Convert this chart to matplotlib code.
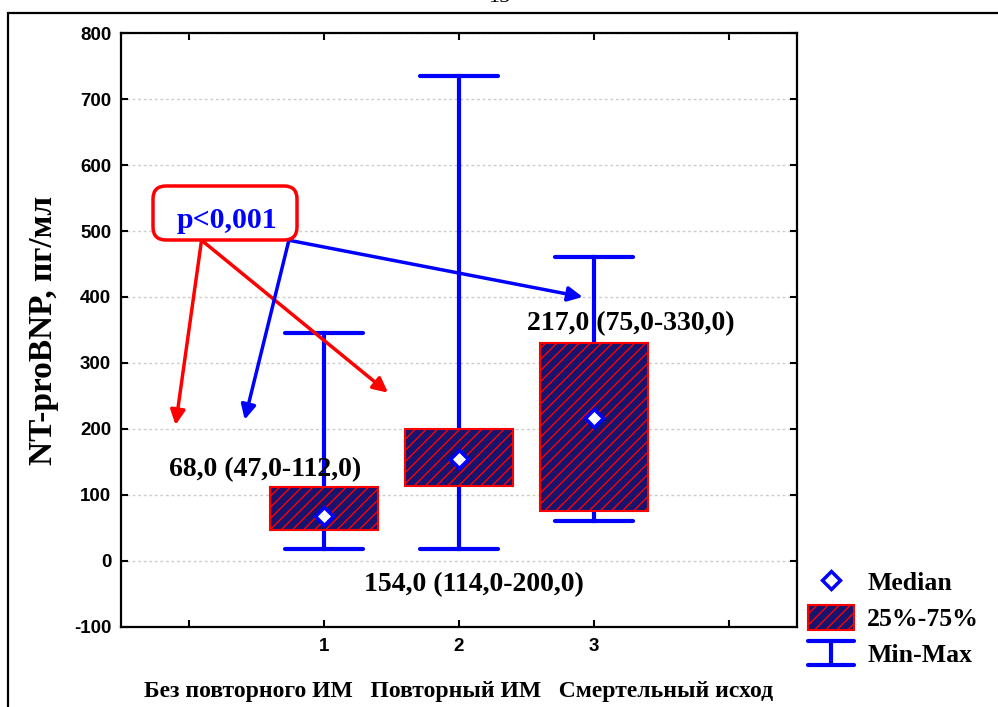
import matplotlib
matplotlib.use("Agg")
import matplotlib.pyplot as plt
from matplotlib.lines import Line2D
from matplotlib.patches import Patch, Rectangle, FancyBboxPatch
from matplotlib.legend_handler import HandlerBase

# data
groups = [1, 2, 3]
medians = [68.0, 154.0, 217.0]
q1 = [47.0, 114.0, 75.0]
q3 = [112.0, 200.0, 330.0]
mins = [18.0, 18.0, 60.0]
maxs = [345.0, 735.0, 460.0]
group_names = "Без повторного ИМ   Повторный ИМ   Смертельный исход"
yticks = [-100, 0, 100, 200, 300, 400, 500, 600, 700, 800]

serif = "Liberation Serif"
sans = "Liberation Sans"
blue = "#0000ff"
red = "#ff0000"
navy = "#16146e"


class HandlerWhisker(HandlerBase):
    # legend symbol for the Min-Max whisker: two caps joined by a stem
    def create_artists(self, legend, orig_handle, xdescent, ydescent,
                       width, height, fontsize, trans):
        x0, x1 = -xdescent, -xdescent + width
        y0, y1 = -ydescent, -ydescent + height
        xm = (x0 + x1) / 2
        kw = dict(color=blue, lw=3, solid_capstyle="round", transform=trans)
        return [Line2D([x0, x1], [y1, y1], **kw),
                Line2D([x0, x1], [y0, y0], **kw),
                Line2D([xm, xm], [y0, y1], **kw)]


fig = plt.figure(figsize=(9.98, 7.07), dpi=100)
ax = fig.add_axes([0.1212, 0.1132, 0.6774, 0.8401])

# page frame and page number of the scanned document
fig.patches.append(Rectangle((8 / 998, -0.05), 1.2, 0.05 + 1 - 13 / 707,
                             transform=fig.transFigure, fill=False,
                             ec="black", lw=1.6))
fig.text(0.5, 1 - 7 / 707, "15", ha="center", va="bottom",
         fontsize=16, family=serif)

width = 0.8
cap = 0.58
for x, lo, hi, a, b, m in zip(groups, mins, maxs, q1, q3, medians):
    ax.plot([x, x], [lo, hi], color=blue, lw=3, zorder=2)
    ax.plot([x - cap / 2, x + cap / 2], [lo, lo], color=blue, lw=3,
            solid_capstyle="round", zorder=2)
    ax.plot([x - cap / 2, x + cap / 2], [hi, hi], color=blue, lw=3,
            solid_capstyle="round", zorder=2)
    ax.bar(x, b - a, bottom=a, width=width, facecolor=navy, edgecolor=red,
           hatch="///", lw=1.5, zorder=3)
    ax.plot(x, m, marker="D", ms=9, mfc="white", mec=blue, mew=2.5,
            ls="none", zorder=4)

ax.set_xlim(-0.5, 4.5)
ax.set_ylim(-100, 800)
ax.set_xticks([0, 1, 2, 3, 4])
ax.set_xticklabels(["", "1", "2", "3", ""])
ax.set_yticks(yticks)
ax.set_yticklabels([str(v) for v in yticks])
ax.grid(axis="y", color="#cccccc", ls=(0, (2, 2)), lw=1, zorder=0)
ax.tick_params(direction="in", length=5, width=1.5, top=True, right=True,
               labelsize=13.5)
ax.tick_params(axis="x", pad=8)
ax.tick_params(axis="y", pad=7)
for lab in ax.get_xticklabels() + ax.get_yticklabels():
    lab.set_family(sans)
    lab.set_fontweight("bold")
for sp in ax.spines.values():
    sp.set_linewidth(1.6)

ax.set_ylabel("NT-proBNP, пг/мл", family=serif, fontweight="bold",
              fontsize=24, labelpad=11)
ax.set_xlabel(group_names, family=serif, fontweight="bold", fontsize=17,
              labelpad=19)

# median (IQR) labels
ann = dict(family=serif, fontweight="bold", fontsize=20, ha="center",
           va="center", zorder=5)
ax.text(0.564, 138, "68,0 (47,0-112,0)", **ann)
ax.text(2.107, -36, "154,0 (114,0-200,0)", **ann)
ax.text(3.27, 359, "217,0 (75,0-330,0)", **ann)

# significance box with arrows
fig.patches.append(FancyBboxPatch((1.53, (707 - 240) / 100), 1.44, 0.54,
                                  boxstyle="round,pad=0,rounding_size=0.13",
                                  transform=fig.dpi_scale_trans,
                                  fc="white", ec=red, lw=2.5, zorder=6))
fig.text(2.27 / 9.98, 1 - 221 / 707, "p<0,001", family=serif,
         fontweight="bold", fontsize=21.5, color=blue, ha="center",
         va="center", zorder=7)
arr_red = dict(arrowstyle="-|>", color=red, lw=2.5, mutation_scale=22,
               shrinkA=0, shrinkB=0)
arr_blue = dict(arrowstyle="-|>", color=blue, lw=2.5, mutation_scale=22,
                shrinkA=0, shrinkB=0)
ax.annotate("", xy=(-0.096, 206), xytext=(0.096, 486), arrowprops=arr_red,
            zorder=5)
ax.annotate("", xy=(1.475, 255), xytext=(0.096, 486), arrowprops=arr_red,
            zorder=5)
ax.annotate("", xy=(0.415, 214), xytext=(0.742, 486), arrowprops=arr_blue,
            zorder=5)
ax.annotate("", xy=(2.915, 400), xytext=(0.742, 486), arrowprops=arr_blue,
            zorder=5)

# legend outside the plot on the right
h_med = Line2D([], [], marker="D", ms=9, mfc="white", mec=blue, mew=2.5,
               ls="none")
h_box = Patch(facecolor=navy, edgecolor=red, hatch="///", lw=1.5)
h_wh = object()
fig.legend([h_med, h_box, h_wh], ["Median", "25%-75%", "Min-Max"],
           handler_map={h_wh: HandlerWhisker()},
           loc="upper left", bbox_to_anchor=(808 / 998, 1 - 569 / 707),
           frameon=False, borderpad=0, borderaxespad=0,
           prop=dict(family=serif, weight="bold", size=18.5),
           handlelength=1.8, handleheight=1.1, handletextpad=0.5,
           labelspacing=0.38)

fig.savefig("out.png", dpi=100)
